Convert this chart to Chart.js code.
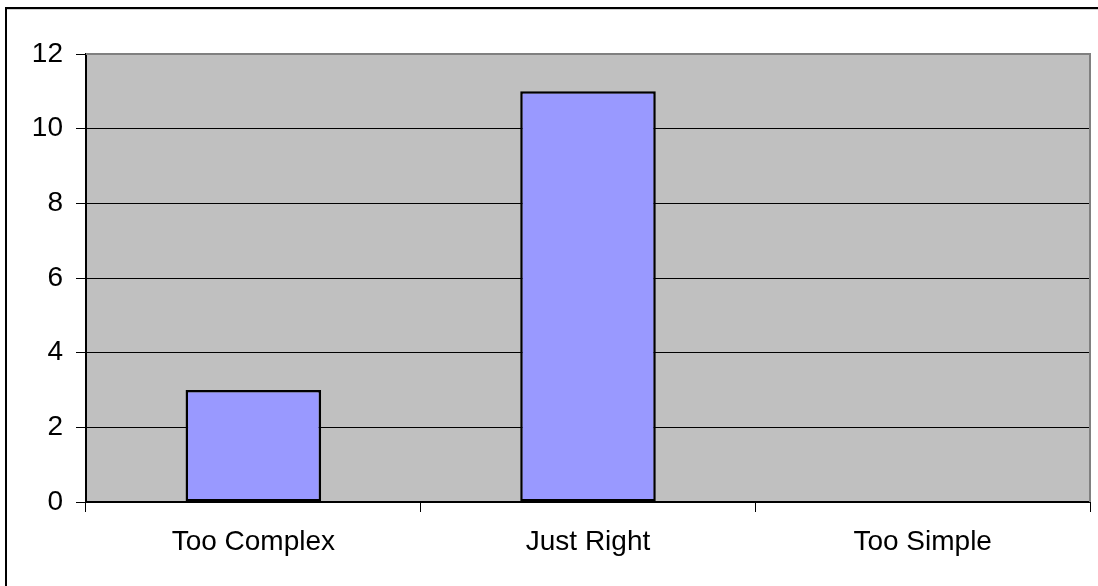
<!DOCTYPE html>
<html>
<head>
<meta charset="utf-8">
<style>
  html, body { margin: 0; padding: 0; background: #ffffff; }
  #wrap { position: relative; width: 1098px; height: 586px; }
  canvas { display: block; }
</style>
<script src="https://cdn.jsdelivr.net/npm/chart.js@4/dist/chart.umd.min.js"></script>
</head>
<body>
<div id="wrap"><canvas id="chart" width="1098" height="586"></canvas></div>
<script>
// Survey responses per difficulty rating
const categories = ['Too Complex', 'Just Right', 'Too Simple'];
const responses = [3, 11, 0];
const yTicks = [0, 2, 4, 6, 8, 10, 12];

const FONT = '"Liberation Sans", Arial, Helvetica, sans-serif';

// Grey plot background, frame on top/right and the outer page border
const frame = {
  id: 'frame',
  beforeDraw(chart) {
    const { ctx, chartArea: a } = chart;
    ctx.save();
    ctx.fillStyle = '#c0c0c0';
    ctx.fillRect(a.left, a.top, a.right - a.left, a.bottom - a.top);
    ctx.restore();
  },
  afterDatasetsDraw(chart) {
    const { ctx, chartArea: a } = chart;
    ctx.save();
    ctx.strokeStyle = '#808080';
    ctx.lineWidth = 2;
    ctx.beginPath();
    ctx.moveTo(a.left, a.top);
    ctx.lineTo(a.right, a.top);
    ctx.lineTo(a.right, a.bottom);
    ctx.stroke();
    ctx.restore();
  },
  afterDraw(chart) {
    const ctx = chart.ctx;
    ctx.save();
    ctx.fillStyle = '#000000';
    ctx.fillRect(5, 7, chart.width - 5, 2);
    ctx.fillRect(5, 7, 2, chart.height - 7);
    ctx.fillStyle = '#d0d0d0';
    ctx.fillRect(7, 9, chart.width - 7, 1);
    ctx.restore();
  }
};

new Chart(document.getElementById('chart'), {
  type: 'bar',
  data: {
    labels: categories,
    datasets: [{
      data: responses,
      backgroundColor: '#9999ff',
      borderColor: '#000000',
      borderWidth: (c) => (c.raw ? 2.5 : 0),
      borderSkipped: false,
      categoryPercentage: 1,
      barPercentage: 0.405
    }]
  },
  options: {
    responsive: false,
    animation: false,
    layout: { padding: { top: 54, right: 8, bottom: 0, left: 0 } },
    plugins: { legend: { display: false }, tooltip: { enabled: false } },
    scales: {
      x: {
        offset: true,
        afterFit(scale) { scale.height = 84; },
        grid: {
          offset: true,
          drawOnChartArea: false,
          drawTicks: true,
          tickLength: 10,
          color: '#000000',
          lineWidth: 1
        },
        border: { display: true, color: '#000000', width: 2 },
        ticks: {
          color: '#000000',
          padding: 13,
          font: { family: FONT, size: 28 }
        }
      },
      y: {
        min: 0,
        max: 12,
        afterFit(scale) { scale.width = 86; },
        afterBuildTicks(scale) { scale.ticks = yTicks.map(v => ({ value: v })); },
        grid: {
          color: (c) => (c.tick && c.tick.value === 12 ? 'rgba(0,0,0,0)' : '#000000'),
          lineWidth: 1,
          drawTicks: true,
          tickLength: 10,
          tickColor: '#000000'
        },
        border: { display: true, color: '#000000', width: 2 },
        ticks: {
          color: '#000000',
          padding: 13,
          font: { family: FONT, size: 28 }
        }
      }
    }
  },
  plugins: [frame]
});
</script>
</body>
</html>
